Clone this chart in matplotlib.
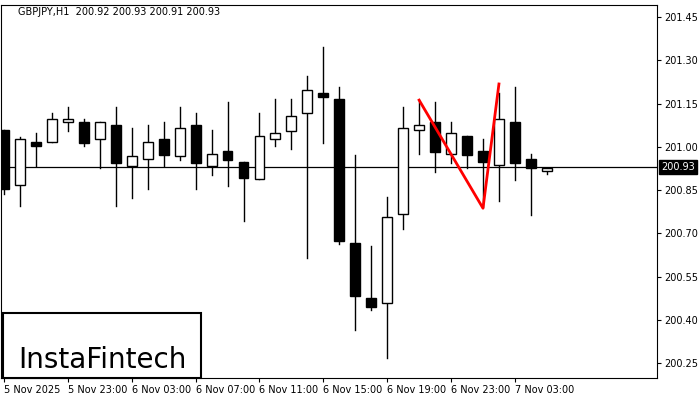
import matplotlib
matplotlib.use("Agg")
import matplotlib.pyplot as plt
from matplotlib.patches import Rectangle

opens  = [201.058,200.867,201.016,201.016,201.086,201.086,201.027,201.075,200.933,200.957,201.027,200.968,201.075,200.933,200.985,200.947,200.888,201.027,201.054,201.117,201.186,201.166,200.666,200.475,200.458,200.767,201.058,201.086,200.975,201.037,200.985,200.937,201.086,200.957,200.916]
highs  = [201.060,201.034,201.048,201.117,201.138,201.096,201.086,201.138,201.065,201.075,201.086,201.138,201.117,201.058,201.155,200.947,201.117,201.166,201.166,201.245,201.346,201.207,200.971,200.656,200.826,201.138,201.162,201.155,201.086,201.037,201.027,201.186,201.207,200.975,200.926]
lows   = [200.836,200.794,200.933,201.016,201.054,201.003,200.926,200.794,200.822,200.853,200.933,200.954,200.853,200.902,200.864,200.742,200.888,201.003,200.992,200.614,201.013,200.663,200.364,200.434,200.267,200.715,200.975,200.912,200.944,200.926,200.791,200.812,200.885,200.763,200.905]
closes = [200.853,201.027,201.003,201.096,201.096,201.013,201.086,200.944,200.968,201.016,200.971,201.065,200.944,200.975,200.954,200.891,201.037,201.048,201.107,201.197,201.172,200.673,200.482,200.444,200.756,201.065,201.075,200.982,201.048,200.971,200.947,201.096,200.944,200.926,200.926]
pattern_x = [26, 30, 31]
pattern_y = [201.162, 200.787, 201.218]
yticks = [200.25,200.40,200.55,200.70,200.85,201.00,201.15,201.30,201.45]
xtick_pos = [0,4,8,12,16,20,24,28,32]
xtick_labels = ["5 Nov 2025","5 Nov 23:00","6 Nov 03:00","6 Nov 07:00","6 Nov 11:00","6 Nov 15:00","6 Nov 19:00","6 Nov 23:00","7 Nov 03:00"]
last_price = 200.93

fig = plt.figure(figsize=(7,4), dpi=100)
ax = fig.add_axes([1/700, 22/400, 656/700, 373/400])
ax.set_xlim(-0.19, 40.9)
ax.set_ylim(200.198, 201.492)
ax.axhline(last_price, color='black', lw=0.9, zorder=1)
w = 0.62
for i,(o,h,l,c) in enumerate(zip(opens,highs,lows,closes)):
    ax.plot([i,i],[l,h], color='black', lw=1, zorder=2)
    bull = c >= o
    ax.add_patch(Rectangle((i-w/2, min(o,c)), w, max(abs(c-o),0.003),
                 facecolor='white' if bull else 'black', edgecolor='black', lw=1, zorder=3))
ax.plot(pattern_x, pattern_y, color='#ff0000', lw=2, zorder=4)

ax.yaxis.tick_right()
ax.set_yticks(yticks)
ax.set_yticklabels([f"{v:.2f}" for v in yticks], fontsize=7)
ax.set_xticks(xtick_pos)
ax.set_xticklabels(xtick_labels, fontsize=7, ha='left')
ax.tick_params(length=3, width=0.8, pad=2)
for s in ax.spines.values():
    s.set_linewidth(0.8)
ax.text(41.15, last_price, f"{last_price:.2f}", fontsize=7, color='white', va='center', ha='left',
        bbox=dict(boxstyle='square,pad=0.2', fc='black', ec='black'), clip_on=False, zorder=10)
fig.text(18/700, 1-12/400, "GBPJPY,H1  200.92 200.93 200.91 200.93", fontsize=7, va='center')
fig.patches.append(Rectangle((3/700, 22/400), 198/700, 65/400, transform=fig.transFigure,
                             fill=True, fc='white', ec='black', lw=1.5, zorder=20))
fig.text(102/700, 1-360/400, "InstaFintech", fontsize=20, ha='center', va='center', zorder=21)
fig.savefig("out.png", dpi=100)
